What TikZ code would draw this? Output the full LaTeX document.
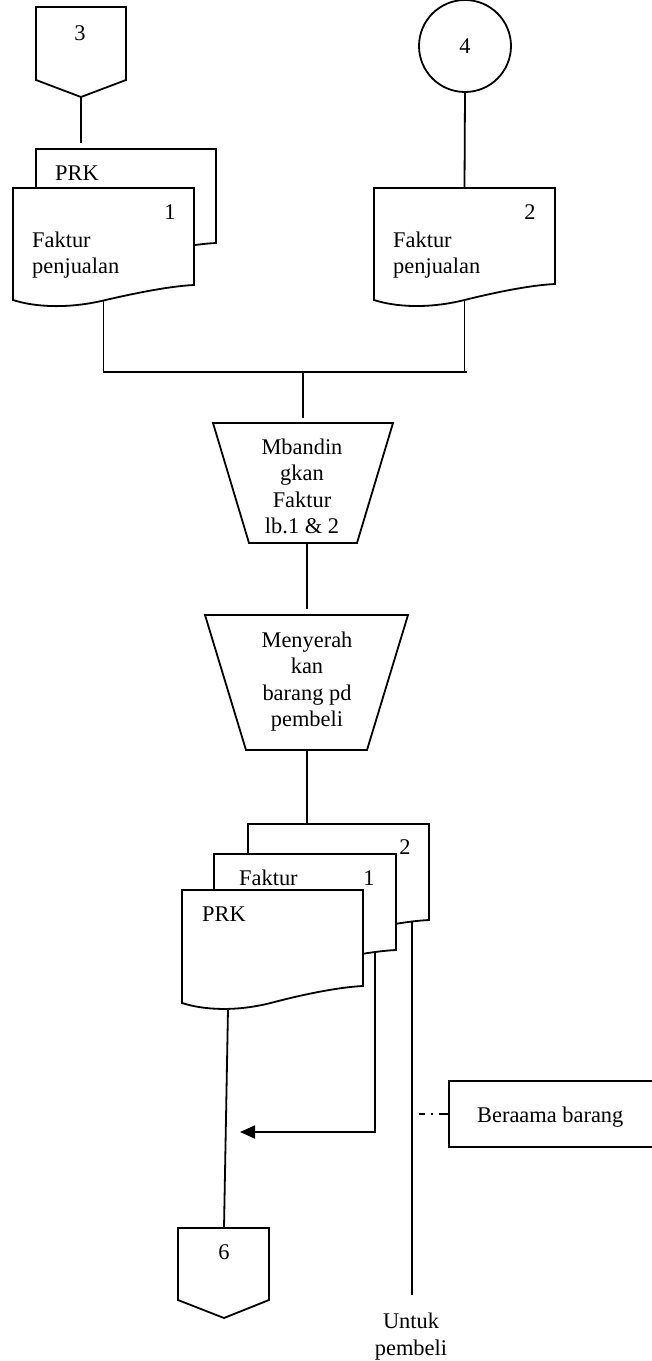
\documentclass[tikz,border=0pt]{standalone}
\usepackage{fontspec}
\setmainfont{Liberation Serif}
\usetikzlibrary{arrows.meta}

\tikzset{
  flow/.style={line width=1.8pt, line join=miter},
  docline/.style={flow, fill=white},
  lbl/.style={inner sep=0pt, font=\fontsize{22.4}{26.5}\selectfont},
  annodash/.style={line width=1.8pt, dash pattern=on 6pt off 6pt on 2pt off 6pt on 12pt off 6pt},
}

% Document symbol with a wavy lower edge.
% #1 name, #2 left x, #3 top y, #4 right x, #5 lower right y, #6 lower left y
\newcommand{\docshape}[6]{%
  \pgfmathsetmacro{\dsW}{#4-#2}%
  \pgfmathsetmacro{\dsXa}{#2+0.12*\dsW}%
  \pgfmathsetmacro{\dsXb}{#2+0.30*\dsW}%
  \pgfmathsetmacro{\dsXm}{#2+0.50*\dsW}%
  \pgfmathsetmacro{\dsXc}{#2+0.70*\dsW}%
  \pgfmathsetmacro{\dsXd}{#2+0.88*\dsW}%
  \pgfmathsetmacro{\dsYa}{#6+7}%
  \pgfmathsetmacro{\dsYb}{#6+9}%
  \pgfmathsetmacro{\dsYm}{(#5+#6)/2+8}%
  \pgfmathsetmacro{\dsYc}{2*\dsYm-\dsYb}%
  \pgfmathsetmacro{\dsYd}{#5+1}%
  \filldraw[docline] (#2,#3) -- (#4,#3) -- (#4,#5)
    .. controls (\dsXd,\dsYd) and (\dsXc,\dsYc) .. (\dsXm,\dsYm)
    .. controls (\dsXb,\dsYb) and (\dsXa,\dsYa) .. (#2,#6) -- cycle;
  \coordinate (#1-top) at (\dsXm,#3);
  \coordinate (#1-bot) at (\dsXm,\dsYm);
}

\begin{document}
\begin{tikzpicture}[x=1pt,y=-1pt]
\fill[white] (0,0) rectangle (652,1361);
\useasboundingbox (0,0) rectangle (652,1361);

% ---- connector points ----
\coordinate (c3-tip) at (81,97);
\coordinate (prkA-in) at (81,143);
\coordinate (jn-l) at (103,372);
\coordinate (jn-r) at (467,372);
\coordinate (jn-m) at (303,372);
\coordinate (tr1-in) at (303,418);
\coordinate (tr1-out) at (307,543);
\coordinate (tr2-in) at (307,609);
\coordinate (tr2-out) at (307,750);
\coordinate (stk-in) at (307,824);
\coordinate (prkF-out) at (228,1009);
\coordinate (fkM-out) at (375,951);
\coordinate (fkB-out) at (412,921);
\coordinate (ret-end) at (240,1132);
\coordinate (buyer-end) at (412,1295);
\coordinate (ann-in) at (419,1114);
\coordinate (ann-left) at (449,1114);
\coordinate (c6-top) at (224,1228);

% ---- connectors ----
\draw[flow] (c3-tip) -- (prkA-in);
\draw[flow] (jn-l) -- (jn-r);
\draw[flow] (jn-m) -- (tr1-in);
\draw[flow] (tr1-out) -- (tr2-in);
\draw[flow] (tr2-out) -- (stk-in);
\draw[flow] (prkF-out) -- (c6-top);
\draw[flow,-{Triangle[length=15pt,width=13pt]}] (fkM-out) |- (ret-end);
\draw[flow] (fkB-out) -- (buyer-end);
\draw[annodash] (ann-in) -- (ann-left);

% ---- off-page connector 3 ----
\draw[flow] (36,7) -- (126,7) -- (126,80) -- (c3-tip) -- (36,80) -- cycle;
\node[lbl, anchor=base] (lbl3) at (80,40) {3};

% ---- on-page connector 4 ----
\node[draw, circle, line width=1.8pt, minimum size=92pt, inner sep=0pt,
      font=\fontsize{22.4}{26.5}\selectfont] (c4) at (465,46) {4};

% ---- PRK + Faktur penjualan 1 ----
\docshape{prkA}{36}{149}{216}{243}{258}
\node[lbl, anchor=base west] (prkAtxt) at (55,180) {PRK};
\docshape{fk1}{13}{188}{194}{285}{300}
\node[lbl, anchor=base] (fk1num) at (170,219) {1};
\node[lbl, anchor=north west, align=left] (fk1txt) at (32,231.7) {Faktur\\penjualan};

% ---- Faktur penjualan 2 ----
\docshape{fk2}{374}{188}{555}{284}{300}
\node[lbl, anchor=base] (fk2num) at (530,219) {2};
\node[lbl, anchor=north west, align=left] (fk2txt) at (393,231.7) {Faktur\\penjualan};

\draw[flow] (c4.south) -- (fk2-top);
\draw[flow] (fk1-bot) -- (fk1-bot |- jn-l);
\draw[flow] (fk2-bot) -- (fk2-bot |- jn-l);

% ---- manual operations ----
\draw[flow] (213,423) -- (393,423) -- (357,543) -- (249,543) -- cycle;
\node[lbl, anchor=north, align=center] (tr1txt) at (302,438.7) {Mbandin\\gkan\\Faktur\\lb.1 \& 2};
\draw[flow] (205,615) -- (408,615) -- (367,750) -- (246,750) -- cycle;
\node[lbl, anchor=north, align=center] (tr2txt) at (307,631.7) {Menyerah\\kan\\barang pd\\pembeli};

% ---- document stack: Faktur 2, Faktur 1, PRK ----
\docshape{fkB}{248}{824}{429}{920}{935}
\node[lbl, anchor=base] (fkBnum) at (405,854) {2};
\docshape{fkM}{214}{854}{396}{950}{965}
\node[lbl, anchor=base west] (fkMtxt) at (239,885) {Faktur};
\node[lbl, anchor=base] (fkMnum) at (369,885) {1};
\docshape{prkF}{182}{890}{363}{986}{1003}
\node[lbl, anchor=base west] (prkFtxt) at (202,921) {PRK};

% ---- annotation ----
\draw[flow] (652,1081) -- (ann-left |- 0,1081) -- (ann-left |- 0,1147) -- (652,1147);
\node[lbl, anchor=base west] (anntxt) at (477,1122) {Beraama barang};

% ---- off-page connector 6 ----
\draw[flow] (178,1228) -- (269,1228) -- (269,1300) -- (224,1318) -- (178,1300) -- cycle;
\node[lbl, anchor=base] (lbl6) at (224,1259) {6};

% ---- destination text ----
\node[lbl, anchor=north, align=center] (buyer) at (411,1313) {Untuk\\pembeli};
\end{tikzpicture}
\end{document}
